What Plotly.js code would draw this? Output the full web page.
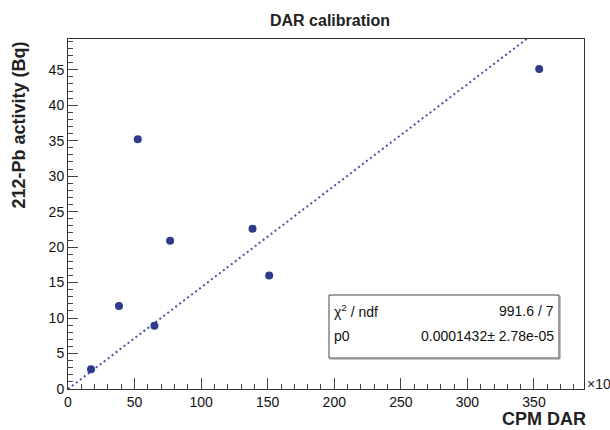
<!DOCTYPE html>
<html>
<head>
<meta charset="utf-8">
<script src="https://cdn.plot.ly/plotly-3.0.1.min.js"></script>
<style>
  html, body { margin: 0; padding: 0; background: #fff; }
  #chart { width: 610px; height: 430px; }
</style>
</head>
<body>
<div id="chart"></div>
<script>
// Data (CPM DAR in units of 10^3, activity in Bq)
const cpmDar = [17.3, 38.3, 52.4, 64.9, 76.7, 138.6, 151.1, 353.9];
const activity = [2.8, 11.7, 35.2, 8.9, 20.9, 22.6, 16.0, 45.1];
// Fit result (slope through origin, per CPM)
const fitP0 = 0.0001432;
const fitP0Err = "2.78e-05";
const chi2Text = "991.6 / 7";
const xTickVals = [0, 50, 100, 150, 200, 250, 300, 350];
const yTickVals = [0, 5, 10, 15, 20, 25, 30, 35, 40, 45];

// ROOT-style automatic range: 10% margin beyond data span, clamped at 0
const xMin = Math.min(...cpmDar), xMax = Math.max(...cpmDar);
const yMin = Math.min(...activity), yMax = Math.max(...activity);
const xHi = xMax + 0.1 * (xMax - xMin);
const yHi = yMax + 0.1 * (yMax - yMin);

const fitX = [0, xHi];
const fitY = fitX.map(v => fitP0 * 1000 * v);

const FONT = "Liberation Sans, Arial, Helvetica, sans-serif";
const L = 68, R = 26, T = 39, B = 41;
const W = 610 - L - R, H = 430 - T - B;
const px = x => (x - L) / W;
const py = y => (430 - B - y) / H;

const traces = [
  {
    x: fitX, y: fitY, type: "scatter", mode: "lines",
    line: { color: "#4a52a6", width: 2, dash: "2px,3px" },
    hoverinfo: "skip", showlegend: false
  },
  {
    x: cpmDar, y: activity, type: "scatter", mode: "markers",
    marker: { color: "#2e3a8c", size: 8 },
    showlegend: false, cliponaxis: false
  }
];

const axisCommon = {
  showline: true, linecolor: "#333", linewidth: 1, mirror: true,
  showgrid: false, zeroline: false,
  ticks: "inside", ticklen: 11, tickwidth: 1, tickcolor: "#444",
  tickfont: { family: FONT, size: 14, color: "#111" },
  tickmode: "array"
};

const layout = {
  width: 610, height: 430,
  margin: { l: L, r: R, t: T, b: B },
  paper_bgcolor: "#fff", plot_bgcolor: "#fff",
  showlegend: false,
  title: {
    text: "<b>DAR calibration</b>",
    font: { family: FONT, size: 16, color: "#222" },
    x: 330 / 610, xanchor: "center", xref: "container",
    y: 1 - 20.5 / 430, yanchor: "middle", yref: "container"
  },
  xaxis: Object.assign({}, axisCommon, {
    range: [0, xHi], tickvals: xTickVals, ticktext: xTickVals.map(String),
    minor: { ticks: "inside", ticklen: 5, tickcolor: "#444", dtick: 10, tick0: 0, showgrid: false }
  }),
  yaxis: Object.assign({}, axisCommon, {
    range: [0, yHi], tickvals: yTickVals, ticktext: yTickVals.map(String),
    ticklen: 10,
    minor: { ticks: "inside", ticklen: 5, tickcolor: "#444", dtick: 1, tick0: 0, showgrid: false }
  }),
  shapes: [
    {
      type: "rect", xref: "paper", yref: "paper",
      x0: px(329), x1: px(559), y0: py(358), y1: py(295),
      line: { color: "#444", width: 1 }, fillcolor: "#fff", layer: "above"
    },
    {
      type: "line", xref: "paper", yref: "paper",
      x0: px(330), x1: px(560), y0: py(359), y1: py(359),
      line: { color: "#888", width: 1 }, layer: "above"
    },
    {
      type: "line", xref: "paper", yref: "paper",
      x0: px(560), x1: px(560), y0: py(296), y1: py(359),
      line: { color: "#888", width: 1 }, layer: "above"
    }
  ],
  annotations: [
    {
      text: "<b>212-Pb activity (Bq)</b>", textangle: -90,
      xref: "paper", yref: "paper", x: px(18), y: py(40),
      xanchor: "center", yanchor: "top", showarrow: false,
      font: { family: FONT, size: 18, color: "#222" }
    },
    {
      text: "<b>CPM DAR</b>",
      xref: "paper", yref: "paper", x: px(588), y: py(419),
      xanchor: "right", yanchor: "middle", showarrow: false,
      font: { family: FONT, size: 18, color: "#222" }
    },
    {
      text: "×10<sup>3</sup>",
      xref: "paper", yref: "paper", x: px(585), y: py(383),
      xanchor: "left", yanchor: "middle", showarrow: false,
      font: { family: FONT, size: 14, color: "#222" }
    },
    {
      text: "χ<sup>2</sup> / ndf",
      xref: "paper", yref: "paper", x: px(332), y: py(311),
      xanchor: "left", yanchor: "middle", showarrow: false,
      font: { family: FONT, size: 14, color: "#111" }
    },
    {
      text: chi2Text,
      xref: "paper", yref: "paper", x: px(556), y: py(311),
      xanchor: "right", yanchor: "middle", showarrow: false,
      font: { family: FONT, size: 14, color: "#111" }
    },
    {
      text: "p0",
      xref: "paper", yref: "paper", x: px(332), y: py(336),
      xanchor: "left", yanchor: "middle", showarrow: false,
      font: { family: FONT, size: 14, color: "#111" }
    },
    {
      text: fitP0.toString() + "± " + fitP0Err,
      xref: "paper", yref: "paper", x: px(556), y: py(336),
      xanchor: "right", yanchor: "middle", showarrow: false,
      font: { family: FONT, size: 14, color: "#111" }
    }
  ]
};

Plotly.newPlot("chart", traces, layout, { staticPlot: true, displayModeBar: false });
</script>
</body>
</html>
